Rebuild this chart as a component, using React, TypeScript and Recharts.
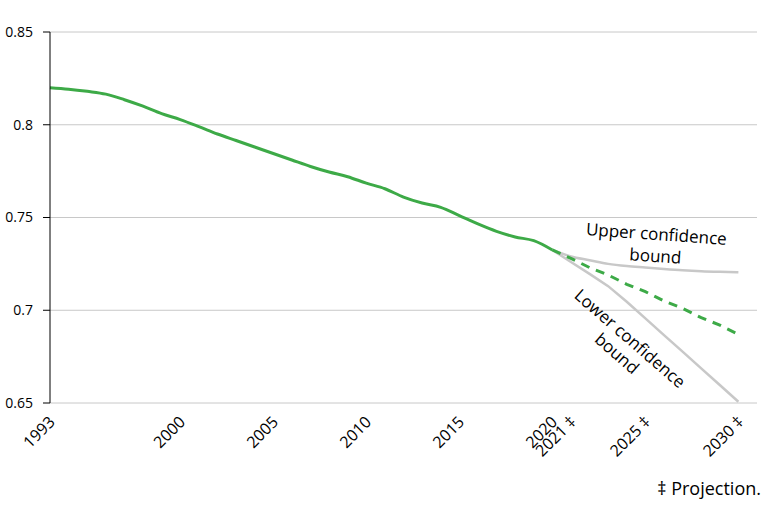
import { LineChart, Line, XAxis, YAxis, CartesianGrid } from 'recharts';

const years = [
  1993, 1994, 1995, 1996, 1997, 1998, 1999, 2000, 2001, 2002, 2003, 2004, 2005, 2006,
  2007, 2008, 2009, 2010, 2011, 2012, 2013, 2014, 2015, 2016, 2017, 2018, 2019, 2020,
  2021, 2022, 2023, 2024, 2025, 2026, 2027, 2028, 2029, 2030,
];

// observed 1993-2020
const actual = [
  0.82, 0.8192, 0.818, 0.8165, 0.8135, 0.81, 0.806, 0.8028, 0.799, 0.795, 0.7915, 0.788,
  0.7845, 0.781, 0.7775, 0.7745, 0.772, 0.7685, 0.7655, 0.761, 0.7578, 0.7555, 0.751,
  0.7465, 0.7425, 0.7395, 0.7375, 0.7325,
];

// projections 2020-2030
const projection = [0.7325, 0.728, 0.723, 0.719, 0.714, 0.71, 0.705, 0.701, 0.696, 0.692, 0.687];
const upperBound = [0.7325, 0.729, 0.727, 0.725, 0.7238, 0.723, 0.7222, 0.7215, 0.721, 0.7207, 0.7205];
const lowerBound = [0.7325, 0.726, 0.7196, 0.713, 0.7046, 0.6956, 0.6866, 0.6777, 0.6687, 0.6597, 0.6507];

const xTicks = [1993, 2000, 2005, 2010, 2015, 2020, 2021, 2025, 2030];
const xTickLabels = ['1993', '2000', '2005', '2010', '2015', '2020', '2021 ‡', '2025 ‡', '2030 ‡'];
const yTicks = [0.65, 0.7, 0.75, 0.8, 0.85];

const projStart = years.indexOf(2020);

const data = years.map((year, i) => ({
  year,
  actual: i < actual.length ? actual[i] : undefined,
  projection: i >= projStart ? projection[i - projStart] : undefined,
  upper: i >= projStart ? upperBound[i - projStart] : undefined,
  lower: i >= projStart ? lowerBound[i - projStart] : undefined,
}));

const GREEN = '#3daa47';
const GREY = '#c8c8c8';
const FONT = '"Open Sans", "Noto Sans", sans-serif';

function YearTick({ x, y, payload }: any) {
  const label = xTickLabels[xTicks.indexOf(payload.value)] ?? String(payload.value);
  const ex = x + 6;
  const ey = y + 20;
  return (
    <text
      x={ex}
      y={ey}
      textAnchor="end"
      fontSize={16}
      fontFamily={FONT}
      fill="#000"
      transform={`rotate(-45 ${ex} ${ey})`}
    >
      {label}
    </text>
  );
}

export default function App() {
  return (
    <div style={{ position: 'absolute', left: 0, top: 0, width: 766, height: 507, background: '#fff' }}>
      <LineChart width={766} height={507} data={data} margin={{ top: 32, right: 9, bottom: 0, left: 0 }}>
        <CartesianGrid vertical={false} stroke={GREY} />
        <XAxis
          dataKey="year"
          type="number"
          domain={[1993, 2031]}
          ticks={xTicks}
          interval={0}
          height={104}
          axisLine={false}
          tickLine={false}
          tickSize={0}
          tickMargin={0}
          tick={<YearTick />}
        />
        <YAxis
          type="number"
          domain={[0.65, 0.85]}
          ticks={yTicks}
          width={50}
          tickSize={7}
          tickMargin={10}
          axisLine={{ stroke: '#000' }}
          tickLine={{ stroke: '#000' }}
          tick={{ fill: '#000', fontSize: 14, fontFamily: FONT }}
        />
        <Line dataKey="upper" type="monotone" stroke={GREY} strokeWidth={2.5} dot={false} isAnimationActive={false} />
        <Line dataKey="lower" type="linear" stroke={GREY} strokeWidth={2.5} dot={false} isAnimationActive={false} />
        <Line
          dataKey="projection"
          type="linear"
          stroke={GREEN}
          strokeWidth={3}
          strokeDasharray="9 7"
          dot={false}
          isAnimationActive={false}
        />
        <Line dataKey="actual" type="monotone" stroke={GREEN} strokeWidth={3} dot={false} isAnimationActive={false} />
      </LineChart>
      <svg
        width={766}
        height={507}
        style={{ position: 'absolute', left: 0, top: 0, pointerEvents: 'none' }}
        fontFamily={FONT}
        fontSize={17}
        fill="#000"
      >
        <text x={656} y={240} textAnchor="middle" transform="rotate(4 656 240)">
          Upper confidence
        </text>
        <text x={655} y={262} textAnchor="middle" transform="rotate(4 655 262)">
          bound
        </text>
        <text x={626} y={343} textAnchor="middle" transform="rotate(41 626 343)">
          Lower confidence
        </text>
        <text x={613} y={358} textAnchor="middle" transform="rotate(41 613 358)">
          bound
        </text>
        <text x={761} y={495} textAnchor="end" fontSize={18}>
          ‡ Projection.
        </text>
      </svg>
    </div>
  );
}
